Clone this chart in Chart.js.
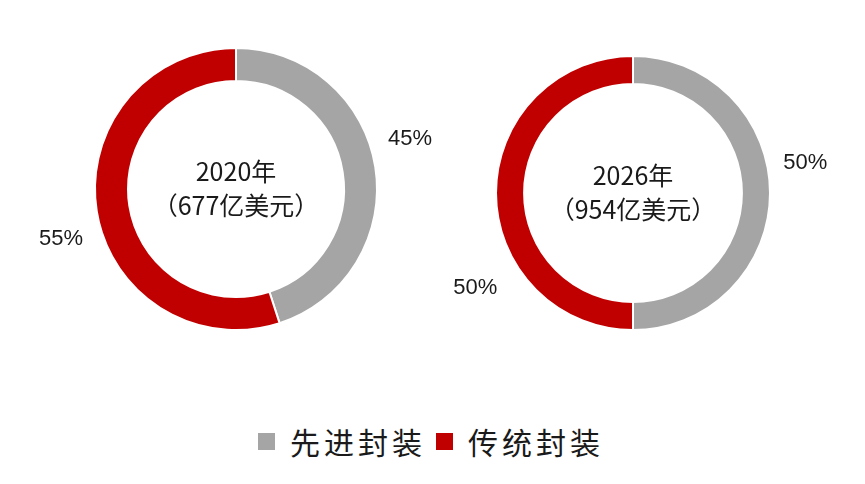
<!DOCTYPE html>
<html>
<head>
<meta charset="utf-8">
<script src="https://cdn.jsdelivr.net/npm/chart.js@4/dist/chart.umd.min.js"></script>
<style>
  html, body { margin: 0; padding: 0; background: #fff; }
  body { width: 865px; height: 484px; position: relative; overflow: hidden; }
  canvas { position: absolute; top: 0; }
  #ring2020 { left: 0; }
  #ring2026 { left: 433px; }
  #legend {
    position: absolute; top: 424px; left: 258px; height: 34px;
    display: flex; align-items: center; white-space: nowrap;
    font-family: "Noto Sans CJK SC", sans-serif; font-size: 30px; color: #1a1a1a;
  }
  #legend .box { width: 17px; height: 17px; display: inline-block; margin-right: 15px; }
  #legend .lab { letter-spacing: 4px; margin-right: 10px; }
</style>
</head>
<body>
<canvas id="ring2020" width="472" height="378"></canvas>
<canvas id="ring2026" width="400" height="386"></canvas>
<div id="legend"></div>
<script>
// 先进封装 / 传统封装 市场份额
const categories = ['先进封装', '传统封装'];
const years = ['2020年', '2026年'];
const marketSize = [677, 954];   // 亿美元
const share2020 = [45, 55];
const share2026 = [50, 50];
const colors = ['#A5A5A5', '#C00000'];

// 百分比标签 + 中心文字
const ringText = {
  id: 'ringText',
  afterDatasetsDraw(chart, args, opts) {
    const ctx = chart.ctx;
    const meta = chart.getDatasetMeta(0);
    const values = chart.data.datasets[0].data;
    ctx.save();
    ctx.fillStyle = '#1a1a1a';
    ctx.textAlign = 'center';
    ctx.textBaseline = 'middle';
    ctx.font = '22px "Liberation Sans", Arial, sans-serif';
    meta.data.forEach((arc, i) => {
      const p = arc.getProps(['x', 'y', 'startAngle', 'endAngle', 'outerRadius'], true);
      const a = (p.startAngle + p.endAngle) / 2 + opts.shift[i] * Math.PI / 180;
      const r = p.outerRadius + opts.gap[i];
      ctx.fillText(values[i] + '%', p.x + Math.cos(a) * r, p.y + Math.sin(a) * r);
    });
    const c = meta.data[0];
    ctx.font = '25px "Noto Sans CJK SC", sans-serif';
    ctx.fillText(opts.title, c.x, c.y - 18);
    ctx.fillText(opts.sub, c.x, c.y + 16);
    ctx.restore();
  }
};

function makeRing(id, values, idx, radius, cutout, shift, gap) {
  return new Chart(document.getElementById(id), {
    type: 'doughnut',
    data: {
      labels: categories,
      datasets: [{
        data: values,
        backgroundColor: colors,
        borderColor: '#fff',
        borderWidth: 2,
      }]
    },
    options: {
      responsive: false,
      animation: false,
      radius: radius,
      cutout: cutout,
      layout: { padding: 0 },
      plugins: {
        legend: { display: false },
        tooltip: { enabled: false },
        ringText: {
          title: years[idx],
          sub: '（' + marketSize[idx] + '亿美元）',
          shift: shift,
          gap: gap,
        }
      }
    },
    plugins: [ringText]
  });
}

const chart2020 = makeRing('ring2020', share2020, 0, 141, '76.6%', [-7, -7], [40, 41]);
const chart2026 = makeRing('ring2026', share2026, 1, 137, '79.5%', [-10, -31], [38, 47]);

// 图例
const legend = document.getElementById('legend');
categories.forEach((name, i) => {
  const box = document.createElement('span');
  box.className = 'box';
  box.style.background = colors[i];
  const lab = document.createElement('span');
  lab.className = 'lab';
  lab.textContent = name;
  legend.appendChild(box);
  legend.appendChild(lab);
});
</script>
</body>
</html>
